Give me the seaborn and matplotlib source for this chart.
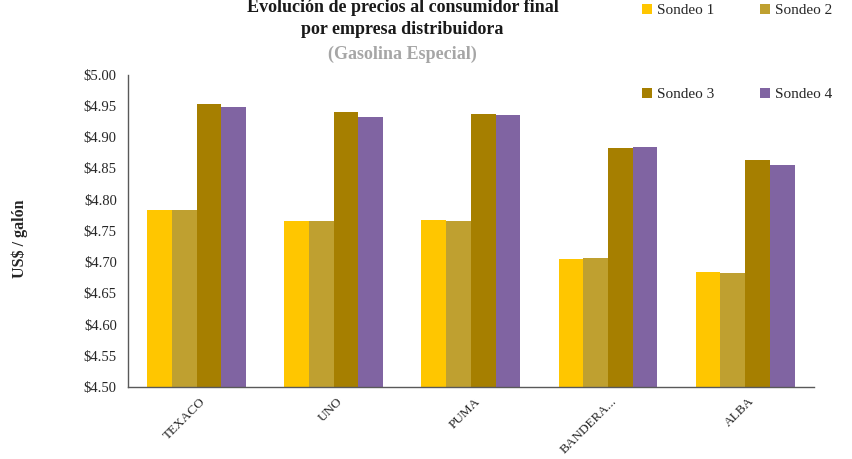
import matplotlib
matplotlib.use("Agg")
import matplotlib.pyplot as plt
import matplotlib.transforms as mtransforms
import seaborn as sns
import pandas as pd
from matplotlib.ticker import FuncFormatter, MultipleLocator

empresas = ["TEXACO", "UNO", "PUMA", "BANDERA...", "ALBA"]
sondeos = ["Sondeo 1", "Sondeo 2", "Sondeo 3", "Sondeo 4"]
sondeo_1 = [4.783, 4.766, 4.768, 4.705, 4.684]
sondeo_2 = [4.783, 4.766, 4.766, 4.707, 4.682]
sondeo_3 = [4.953, 4.941, 4.938, 4.882, 4.864]
sondeo_4 = [4.949, 4.932, 4.936, 4.884, 4.855]
colores = ["#FFC600", "#BFA030", "#A67F00", "#8064A2"]

rows = []
for s, vals in zip(sondeos, [sondeo_1, sondeo_2, sondeo_3, sondeo_4]):
    for e, v in zip(empresas, vals):
        rows.append({"empresa": e, "sondeo": s, "precio": v})
df = pd.DataFrame(rows)

sns.set_style("white")
plt.rcParams["font.family"] = ["Liberation Serif", "DejaVu Serif"]

fig = plt.figure(figsize=(8.53, 4.59), dpi=100)
ax = fig.add_axes([0.150, 0.157, 0.804, 0.680])

sns.barplot(data=df, x="empresa", y="precio", hue="sondeo", order=empresas,
            hue_order=sondeos, palette=colores, width=0.72, saturation=1,
            errorbar=None, ax=ax, linewidth=0)

ax.set_ylim(4.5, 5.0)
ax.yaxis.set_major_locator(MultipleLocator(0.05))
ax.yaxis.set_major_formatter(FuncFormatter(lambda v, p: f"${v:.2f}"))
ax.set_xlim(-0.5, 4.5)

for side in ["top", "right"]:
    ax.spines[side].set_visible(False)
for side in ["left", "bottom"]:
    ax.spines[side].set_color("#595959")
    ax.spines[side].set_linewidth(1.0)

ax.tick_params(axis="y", length=0, labelsize=10.5, labelcolor="#262626", pad=8)
ax.tick_params(axis="x", length=0, labelsize=9.5, labelcolor="#262626", pad=6)
offset = mtransforms.ScaledTranslation(3 / 100, 0, fig.dpi_scale_trans)
for lbl in ax.get_xticklabels():
    lbl.set_rotation(45)
    lbl.set_ha("right")
    lbl.set_va("top")
    lbl.set_rotation_mode("anchor")
    lbl.set_transform(lbl.get_transform() + offset)

ax.set_xlabel("")
ax.set_ylabel("US$ / galón", fontsize=11.5, fontweight="bold")
ax.yaxis.set_label_coords(-0.146, 0.474)

handles, labels = ax.get_legend_handles_labels()
ax.get_legend().remove()
order = [0, 2, 1, 3]
fig.legend([handles[i] for i in order], [labels[i] for i in order], ncol=2,
           loc="upper left", bbox_to_anchor=(0.745, 1.005), frameon=False,
           fontsize=11, handlelength=0.65, handleheight=0.65,
           handletextpad=0.35, columnspacing=3.0, labelspacing=4.6,
           borderaxespad=0)

fig.text(0.472, 0.983, "Evolución de precios al consumidor final", ha="center",
         va="center", fontsize=13, fontweight="bold", color="#1a1a1a")
fig.text(0.472, 0.935, "por empresa distribuidora", ha="center",
         va="center", fontsize=13, fontweight="bold", color="#1a1a1a")
fig.text(0.472, 0.882, "(Gasolina Especial)", ha="center",
         va="center", fontsize=13, fontweight="bold", color="#A6A6A6")

fig.savefig("out.png", dpi=100)
